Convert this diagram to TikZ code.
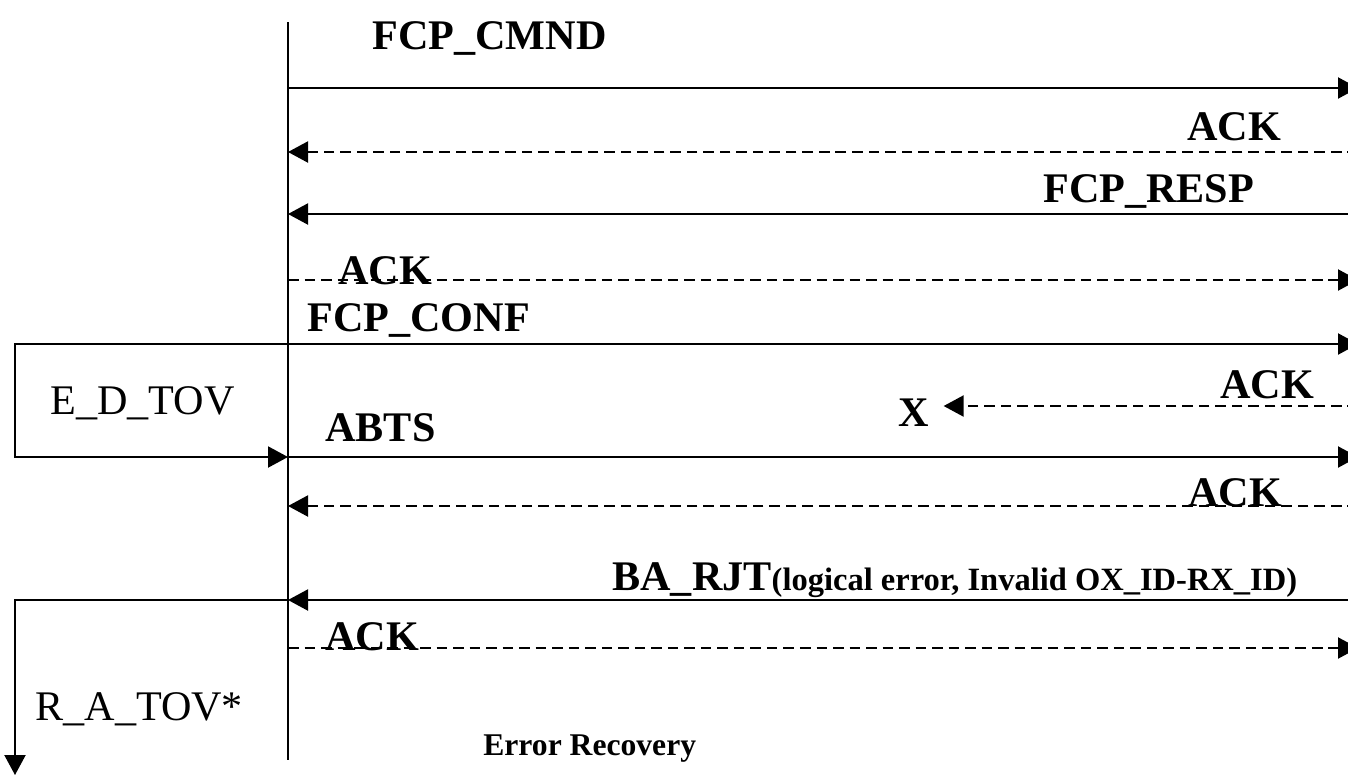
\documentclass[tikz,border=0pt]{standalone}
\usepackage{fontspec}
\setmainfont{Liberation Serif}
\usetikzlibrary{arrows.meta}

\begin{document}
\begin{tikzpicture}[x=0.02cm, y=-0.02cm,
    msg/.style={anchor=base west, inner sep=0pt, font=\fontsize{24}{28}\selectfont\bfseries},
    tov/.style={anchor=base west, inner sep=0pt, font=\fontsize{24}{28}\selectfont},
    arrow/.style={-{Triangle[length=0.4cm, width=0.42cm]}, line width=1.2pt},
    dasharrow/.style={arrow, dash pattern=on 6pt off 3.4pt}
]
\useasboundingbox (0,0) rectangle (1348,775);

% lifeline
\coordinate (top) at (288,22);
\coordinate (bot) at (288,760);
\draw[line width=1.2pt] (top) -- (bot);

% message end points
\coordinate (a1) at (288,88);   \coordinate (b1) at (1358,88);
\coordinate (a2) at (288,152);  \coordinate (b2) at (1358,152);
\coordinate (a3) at (288,214);  \coordinate (b3) at (1358,214);
\coordinate (a4) at (288,280);  \coordinate (b4) at (1358,280);
\coordinate (a5) at (288,344);  \coordinate (b5) at (1358,344);
\coordinate (a6) at (288,406);  \coordinate (b6) at (1358,406);
\coordinate (a7) at (288,457);  \coordinate (b7) at (1358,457);
\coordinate (a8) at (288,506);  \coordinate (b8) at (1358,506);
\coordinate (a9) at (288,600);  \coordinate (b9) at (1358,600);
\coordinate (a10) at (288,648); \coordinate (b10) at (1358,648);

% labels
\node[msg] (cmnd) at (372,49) {FCP\_CMND};
\node[msg] (ack1) at (1187,140) {ACK};
\node[msg] (resp) at (1043,202) {FCP\_RESP};
\node[msg] (ack2) at (338,284) {ACK};
\node[msg] (conf) at (307,331) {FCP\_CONF};
\node[msg] (ack3) at (1220,398) {ACK};
\node[msg, anchor=base, inner xsep=8pt] (lost) at (914,426) {X};
\node[msg] (abts) at (325,441) {ABTS};
\node[msg] (ack4) at (1188,506) {ACK};
\node[msg] (barjt) at (612,590) {BA\_RJT{\fontsize{18.5}{22}\selectfont(logical error, Invalid OX\_ID-RX\_ID)}};
\node[msg] (ack5) at (325,650) {ACK};
\node[msg, font=\fontsize{18}{22}\selectfont\bfseries] (recov) at (483,755) {Error Recovery};
\node[tov] (edtov) at (50,414) {E\_D\_TOV};
\node[tov] (ratov) at (35,720) {R\_A\_TOV*};

% messages
\draw[arrow] (a1) -- (b1);
\draw[dasharrow] (b2) -- (a2);
\draw[arrow] (b3) -- (a3);
\draw[dasharrow] (a4) -- (b4);
\draw[arrow] (a5) -- (b5);
\draw[dasharrow] (b6) -- (b6 -| lost.east);
\draw[arrow] (a7) -- (b7);
\draw[dasharrow] (b8) -- (a8);
\draw[arrow] (b9) -- (a9);
\draw[dasharrow] (a10) -- (b10);

% timers
\coordinate (edtop) at (15,344);
\coordinate (edbot) at (15,457);
\draw[arrow] (a5) -- (edtop) -- (edbot) -- (a7);
\coordinate (ratop) at (15,600);
\coordinate (rabot) at (15,775);
\draw[arrow] (a9) -- (ratop) -- (rabot);

\end{tikzpicture}
\end{document}
